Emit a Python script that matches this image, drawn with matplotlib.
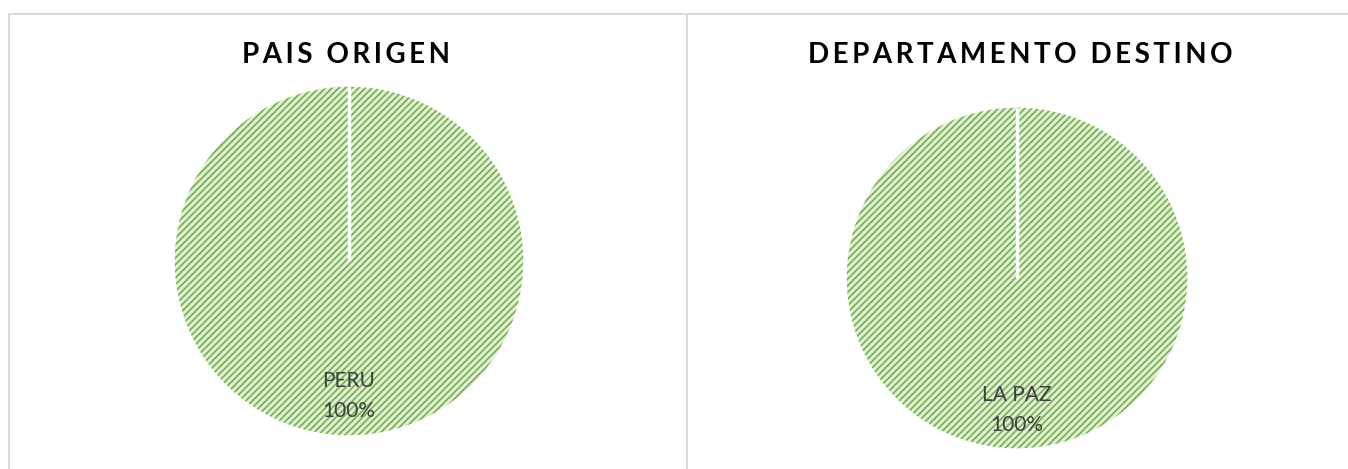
import matplotlib
matplotlib.use("Agg")
import numpy as np
import matplotlib.pyplot as plt
from matplotlib.lines import Line2D

# Data
origin_title = "PAIS ORIGEN"
origin_labels = ["PERU"]
origin_values = [100]

dest_title = "DEPARTAMENTO DESTINO"
dest_labels = ["LA PAZ"]
dest_values = [100]

W, H = 1348, 469
plt.rcParams['hatch.linewidth'] = 1.25
fig = plt.figure(figsize=(W / 100, H / 100), dpi=100)

FACE = "#e2f0d7"
HATCH = "#76b24e"
TEXT = "#404040"
BORDER = "#d9d9d9"


def spaced(s):
    return "\u2009".join(s).replace("\u2009 \u2009", "\u2009\u2009\u2009\u2009")


def draw_pie(cx, cy, r, labels, values):
    ax = fig.add_axes([(cx - r) / W, (H - cy - r) / H, 2 * r / W, 2 * r / H])
    total = sum(values)
    lab = [f"{l}\n{v / total * 100:.0f}%" for l, v in zip(labels, values)]
    wedges, texts = ax.pie(values, labels=lab, startangle=90, counterclock=False,
                           labeldistance=0.775, radius=1,
                           wedgeprops=dict(facecolor=FACE, edgecolor=HATCH,
                                           hatch="/////", linewidth=0),
                           textprops=dict(color=TEXT, fontsize=15,
                                          family=["Lato", "DejaVu Sans"],
                                          linespacing=1.65))
    for t in texts:
        t.set_ha("center")
        t.set_va("center")
    # white separator along the slice boundary
    for w in wedges:
        ang = np.deg2rad(w.theta1)
        cxw, cyw = w.center
        ax.plot([cxw, cxw + w.r * np.cos(ang)], [cyw, cyw + w.r * np.sin(ang)],
                color="white", lw=2.5, solid_capstyle="butt")
    ax.set_xlim(-1.01, 1.01)
    ax.set_ylim(-1.01, 1.01)
    ax.set_aspect("equal")
    ax.axis("off")
    return ax


draw_pie(349, 261, 176, origin_labels, origin_values)
draw_pie(1017, 278, 172, dest_labels, dest_values)

fig.text(346.5 / W, 1 - 55 / H, spaced(origin_title), ha="center", va="center",
         fontsize=20, fontweight="bold", color="black", family=["Lato", "DejaVu Sans"])
fig.text(1020 / W, 1 - 55 / H, spaced(dest_title), ha="center", va="center",
         fontsize=20, fontweight="bold", color="black", family=["Lato", "DejaVu Sans"])

# panel borders
ytop = 1 - 14 / H
fig.add_artist(Line2D([9 / W, 1], [ytop, ytop], color=BORDER, lw=1.5))
fig.add_artist(Line2D([9 / W, 9 / W], [0, ytop], color=BORDER, lw=1.5))
fig.add_artist(Line2D([686.5 / W, 686.5 / W], [0, ytop], color=BORDER, lw=1.5))

fig.savefig("out.png", dpi=100, facecolor="white")
